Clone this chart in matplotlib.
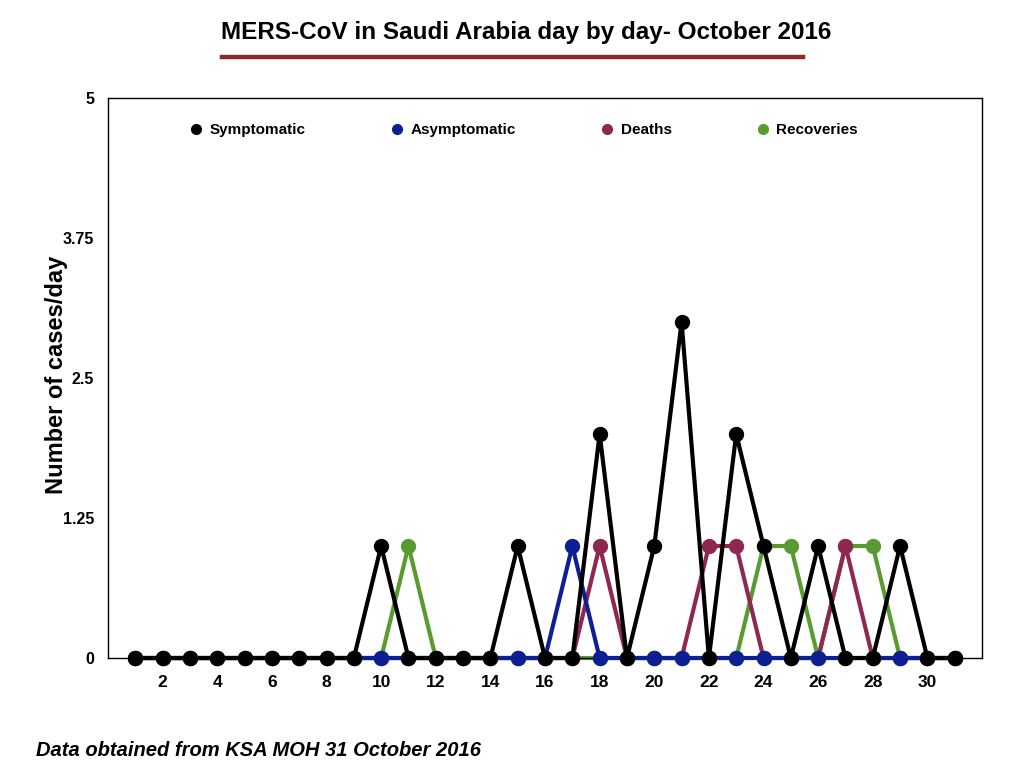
import matplotlib
matplotlib.use("Agg")
import matplotlib.pyplot as plt
from matplotlib.lines import Line2D

plt.rcParams['font.family'] = ['Liberation Sans', 'DejaVu Sans']
plt.rcParams['font.weight'] = 'bold'

days = list(range(1, 32))
symptomatic = [0, 0, 0, 0, 0, 0, 0, 0, 0, 1, 0, 0, 0, 0, 1, 0,
               0, 2, 0, 1, 3, 0, 2, 1, 0, 1, 0, 0, 1, 0, 0]
asymptomatic = [0, 0, 0, 0, 0, 0, 0, 0, 0, 0, 0, 0, 0, 0, 0, 0,
                1, 0, 0, 0, 0, 0, 0, 0, 0, 0, 0, 0, 0, 0, 0]
deaths = [0, 0, 0, 0, 0, 0, 0, 0, 0, 0, 0, 0, 0, 0, 0, 0,
          0, 1, 0, 0, 0, 1, 1, 0, 0, 0, 1, 0, 0, 0, 0]
recoveries = [0, 0, 0, 0, 0, 0, 0, 0, 0, 0, 1, 0, 0, 0, 0, 0,
              0, 0, 0, 0, 0, 0, 0, 1, 1, 0, 1, 1, 0, 0, 0]

series_names = ['Symptomatic', 'Asymptomatic', 'Deaths', 'Recoveries']
colors = ['#000000', '#0c1f94', '#8e2853', '#5a9b2f']
yticks = [0, 1.25, 2.5, 3.75, 5]
ytick_labels = ['0', '1.25', '2.5', '3.75', '5']
xticks = list(range(2, 31, 2))

fig = plt.figure(figsize=(10.24, 7.68), dpi=100)
ax = fig.add_axes([0.1055, 0.1432, 0.8535, 0.7292])

# draw bottom layer first so black ends up on top
all_series = [symptomatic, asymptomatic, deaths, recoveries]
for vals, c, z in zip(all_series[::-1], colors[::-1], [2, 3, 4, 5]):
    ax.plot(days, vals, color=c, lw=3, marker='o', ms=10, zorder=z, clip_on=False)

ax.set_xlim(0, 32)
ax.set_ylim(0, 5)
ax.set_xticks(xticks)
ax.set_xticklabels([str(d) for d in xticks], fontsize=12.5, fontweight='bold')
ax.set_yticks(yticks)
ax.set_yticklabels(ytick_labels, fontsize=11.5, fontweight='bold')
ax.tick_params(axis='x', length=0, pad=12)
ax.tick_params(axis='y', length=0, pad=10)
for s in ax.spines.values():
    s.set_linewidth(1)

# y label sits closer to the axis than matplotlib would put it
fig.text(57 / 1024, 1 - 375 / 768, 'Number of cases/day', rotation=90,
         ha='center', va='center', fontsize=17, fontweight='bold')

handles = [Line2D([], [], color=c, marker='o', ls='none', ms=7) for c in colors]
ax.legend(handles, series_names, ncol=4, loc='upper left', bbox_to_anchor=(0.087, 0.966),
          borderaxespad=0, frameon=False, handlelength=0.8, handletextpad=0.5,
          columnspacing=5.55, prop={'weight': 'bold', 'size': 11})

fig.text(0.514, 0.958, 'MERS-CoV in Saudi Arabia day by day- October 2016',
         ha='center', va='center', fontsize=17.5, fontweight='bold')
fig.add_artist(Line2D([222 / 1024, 803 / 1024], [1 - 57 / 768, 1 - 57 / 768],
                      color='#8b2a22', lw=3.2))
fig.text(0.035, 0.023, 'Data obtained from KSA MOH 31 October 2016',
         ha='left', va='center', fontsize=14.5, fontweight='bold', style='italic')

fig.savefig('out.png', dpi=100)
